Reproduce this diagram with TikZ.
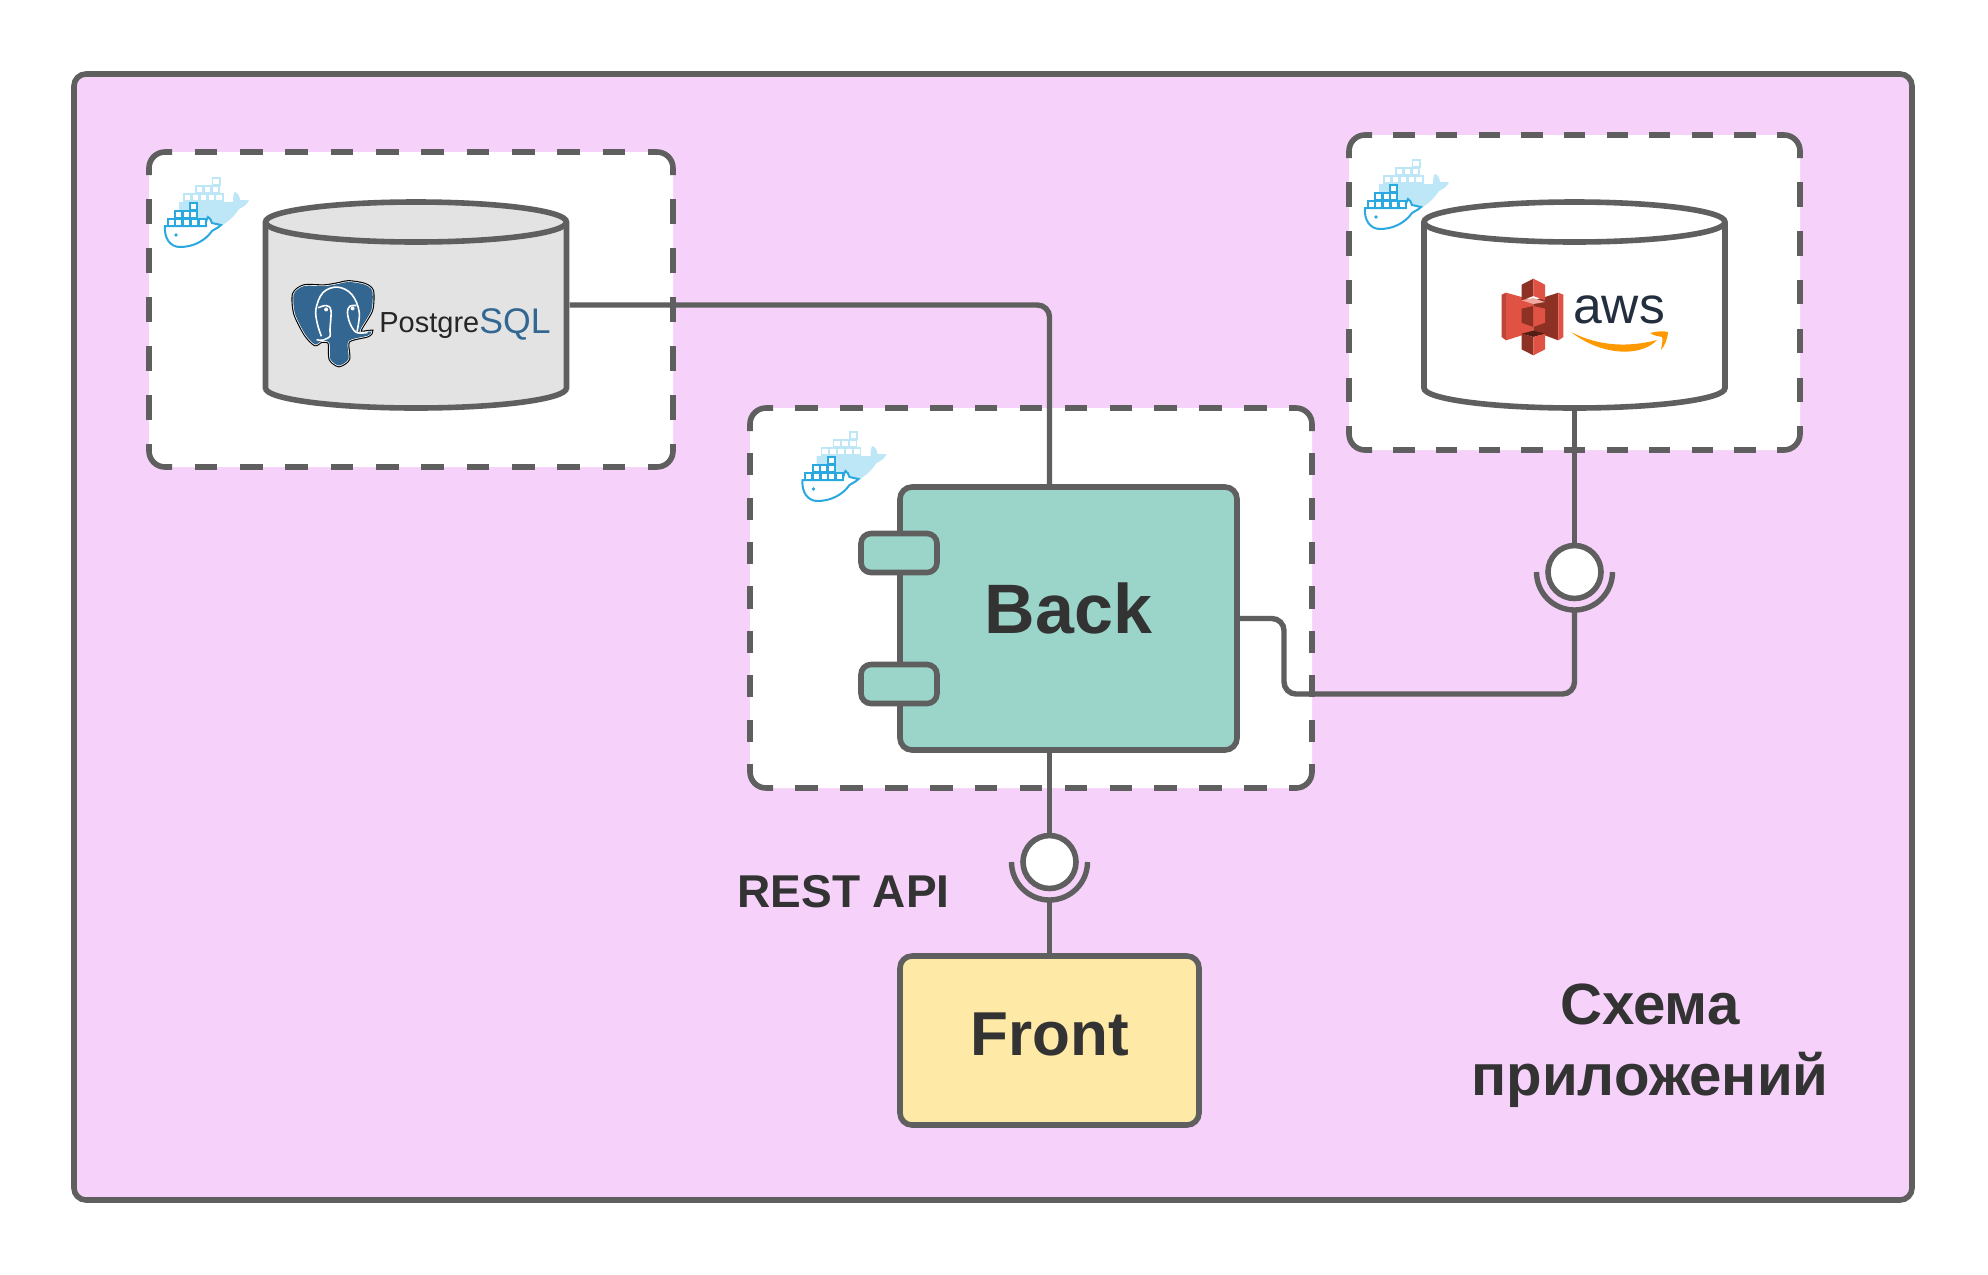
\documentclass[tikz,border=0pt]{standalone}
\usepackage{fontspec}
\setmainfont{Liberation Sans}
\definecolor{linegray}{HTML}{5F5F5F}
\definecolor{framepink}{HTML}{F6D2FA}
\definecolor{backteal}{HTML}{9BD5CA}
\definecolor{frontyellow}{HTML}{FEEAA6}
\definecolor{dbgray}{HTML}{E3E3E3}
\definecolor{labelgray}{HTML}{333333}
\definecolor{dockerblue}{HTML}{2AA9E0}
\definecolor{dockerpale}{HTML}{BDE6F7}
\definecolor{pgblue}{HTML}{336791}
\definecolor{awsnavy}{HTML}{232F3E}
\definecolor{awsorange}{HTML}{FF9900}
\definecolor{sthreelight}{HTML}{E05243}
\definecolor{sthreedark}{HTML}{8C3123}
\tikzset{
    wire/.style={draw=linegray,line width=2.7pt},
    solidbox/.style={draw=linegray,line width=2.8pt,rectangle,rounded corners=6pt,inner sep=0pt,text=labelgray,font=\bfseries},
    dashbox/.style={fill=white,rectangle,rounded corners=8pt,outer sep=0pt},
    dashline/.style={draw=linegray,line width=2.8pt},
    dbcyl/.style={rectangle,outer sep=0pt,inner sep=0pt,minimum width=150.5pt,minimum height=103pt},
    dbline/.style={draw=linegray,line width=2.8pt},
    portbox/.style={solidbox,fill=backteal,rounded corners=5pt,minimum width=38pt,minimum height=19.5pt},
    socket/.style={draw=linegray,fill=white,line width=2.8pt,circle,minimum size=26.5pt,inner sep=0pt},
    label/.style={text=labelgray,font=\bfseries,inner sep=0pt},
    pics/dockership/.style={code={
        % pale whale behind
        \fill[dockerpale] (14,-24) -- (68,-24) .. controls (68,-30) and (69,-34) .. (70,-34)
            .. controls (73,-33) and (75,-29) .. (75,-26) -- (84,-26) .. controls (82,-21) and (78,-19) .. (74,-17)
            .. controls (68,-8) and (60,-1) .. (49,3) -- (14,0) -- cycle;
        \foreach \x in {0,1,2,3,4} {
            \draw[dockerpale,fill=white,line width=0.8pt] (19+7.9*\x,-32) rectangle ++(7.2,7);
        }
        \foreach \x in {0,1,2} {
            \draw[dockerpale,fill=white,line width=0.8pt] (31+7.9*\x,-40) rectangle ++(7.2,7);
        }
        \draw[dockerpale,fill=white,line width=0.8pt] (47.5,-48) rectangle ++(7.2,7);
        % front whale
        \draw[dockerblue,fill=white,line width=1pt] (0,0) -- (40,0) .. controls (41,-4) and (42,-8) .. (43,-9)
            .. controls (45,-8) and (46,-6) .. (47,-3) -- (56,-1) .. controls (52,3) and (49,3) .. (47,5)
            .. controls (40,15) and (28,21) .. (15,21) .. controls (5,21) and (-1,12) .. (0,0) -- cycle;
        \fill[dockerblue] (11,9) circle[radius=0.9pt];
        \foreach \x in {0,1,2,3,4} {
            \draw[dockerblue,fill=white,line width=1pt] (2.7+7.7*\x,-7) rectangle ++(7,7);
        }
        \foreach \x in {0,1,2} {
            \draw[dockerblue,fill=white,line width=1pt] (10+7.7*\x,-15) rectangle ++(7,7);
        }
        \draw[dockerblue,fill=white,line width=1pt] (25.4,-23) rectangle ++(7,7);
    }}
}
% dashes of a container: #1 node, #2 half period along the top, #3 half period down the side
\newcommand{\dashframe}[3]{
    \draw[dashline,dash pattern=on #2 off #2,dash phase=#2] ([xshift=11.5pt]#1.north west) -- ([xshift=-11.5pt]#1.north east);
    \draw[dashline,dash pattern=on #2 off #2,dash phase=#2] ([xshift=11.5pt]#1.south west) -- ([xshift=-11.5pt]#1.south east);
    \draw[dashline,dash pattern=on #3 off #3,dash phase=#3] ([yshift=-11.5pt]#1.north west) -- ([yshift=11.5pt]#1.south west);
    \draw[dashline,dash pattern=on #3 off #3,dash phase=#3] ([yshift=-11.5pt]#1.north east) -- ([yshift=11.5pt]#1.south east);
    \draw[dashline,rounded corners=8pt] ([yshift=-11.5pt]#1.north west) -- (#1.north west) -- ([xshift=11.5pt]#1.north west);
    \draw[dashline,rounded corners=8pt] ([yshift=-11.5pt]#1.north east) -- (#1.north east) -- ([xshift=-11.5pt]#1.north east);
    \draw[dashline,rounded corners=8pt] ([yshift=11.5pt]#1.south west) -- (#1.south west) -- ([xshift=11.5pt]#1.south west);
    \draw[dashline,rounded corners=8pt] ([yshift=11.5pt]#1.south east) -- (#1.south east) -- ([xshift=-11.5pt]#1.south east);
}
% cylinder round an empty node: #1 node, #2 fill
\newcommand{\dbdrum}[2]{
    \draw[dbline,fill=#2] ([yshift=-10pt]#1.north west) arc[start angle=180,end angle=0,x radius=75.25pt,y radius=10pt]
        -- ([yshift=10pt]#1.south east) arc[start angle=0,end angle=-180,x radius=75.25pt,y radius=10pt] -- cycle;
    \draw[dbline] ([yshift=-10pt]#1.north west) arc[start angle=180,end angle=360,x radius=75.25pt,y radius=10pt];
}
\begin{document}
\begin{tikzpicture}[x=0.5pt,y=-0.5pt]
    \useasboundingbox (0,0) rectangle (1988,1275);
    % outer frame
    \draw[draw=linegray,fill=framepink,line width=2.8pt,rounded corners=6pt] (74,74) rectangle (1912,1200);

    % docker containers
    \node[dashbox,minimum width=262pt,minimum height=157.5pt] (pgbox) at (411,309.5) {};
    \node[dashbox,minimum width=225.5pt,minimum height=157.5pt] (sthreebox) at (1574.5,292.5) {};
    \node[dashbox,minimum width=281pt,minimum height=190pt] (backbox) at (1031,598) {};
    \dashframe{pgbox}{11.33pt}{12.23pt}
    \dashframe{sthreebox}{10.66pt}{12.2pt}
    \dashframe{backbox}{11.22pt}{11.1pt}

    \pic at (165,226) {dockership};
    \pic at (1365,208) {dockership};
    \pic at (802.5,480) {dockership};

    % databases
    \node[dbcyl] (pgdb) at (416,305) {};
    \node[dbcyl] (sthreedb) at (1574.5,305) {};
    \dbdrum{pgdb}{dbgray}
    \dbdrum{sthreedb}{white}

    % elephant
    \begin{scope}[shift={(288,278)},x=0.159pt,y=-0.162pt]
        \def\elephant{plot[smooth cycle,tension=0.45] coordinates {(115,25) (50,25) (18,50) (22,110) (55,175) (85,205) (105,195)
            (130,200) (133,250) (160,270) (190,250) (190,195) (250,178) (262,165) (225,165) (262,100) (265,40) (240,20) (190,12) (160,18)}}
        \draw[black,line width=1.8pt] \elephant;
        \draw[white,line width=0.7pt] \elephant;
        \fill[pgblue] \elephant;
        \draw[white,line width=0.8pt] plot[smooth,tension=0.6] coordinates {(105,180) (92,140) (88,95) (110,45) (155,28) (200,50) (224,105) (217,165)};
        \draw[white,line width=0.8pt] plot[smooth,tension=0.6] coordinates {(95,92) (120,85) (135,100) (132,160) (132,180) (108,192) (90,190)};
        \draw[white,line width=0.8pt] plot[smooth,tension=0.6] coordinates {(215,85) (195,87) (187,105) (195,140) (215,168) (250,168)};
        \fill[white] (120,97) circle[radius=1pt] (203,94) circle[radius=1pt];
    \end{scope}
    \node[anchor=base west,inner sep=0pt,text=black!85,font=\fontsize{14.5}{14.5}\selectfont] (pgtext) at (379,332) {Postgre};
    \node[anchor=base west,inner sep=0pt,text=pgblue,font=\fontsize{17.8}{17.8}\selectfont] (sqltext) at (479,333) {SQL};

    % s3 bucket
    \begin{scope}[shift={(1495,272)},x=0.1667pt,y=-0.1667pt]
        \fill[sthreelight!85!black] (20,68) -- (33,62) -- (33,205) -- (20,195) -- cycle;
        \fill[sthreelight] (33,62) -- (80,75) -- (115,85) -- (115,185) -- (80,190) -- (33,205) -- cycle;
        \fill[sthreedark] (190,62) -- (150,75) -- (115,85) -- (115,185) -- (150,190) -- (190,205) -- cycle;
        \fill[sthreelight] (190,62) -- (205,68) -- (205,195) -- (190,205) -- cycle;
        \fill[sthreedark] (80,38) -- (115,20) -- (115,72) -- (80,85) -- cycle;
        \fill[sthreelight] (115,20) -- (150,38) -- (150,85) -- (115,72) -- cycle;
        \fill[sthreelight!50!white] (80,85) -- (115,78) -- (150,90) -- (115,96) -- cycle;
        \fill[sthreedark] (80,110) -- (115,102) -- (115,165) -- (80,152) -- cycle;
        \fill[sthreelight] (115,102) -- (150,110) -- (150,152) -- (115,165) -- cycle;
        \fill[sthreedark!60!black] (80,185) -- (115,176) -- (150,185) -- (115,195) -- cycle;
        \fill[sthreedark] (80,185) -- (115,195) -- (115,250) -- (80,232) -- cycle;
        \fill[sthreelight] (115,195) -- (150,185) -- (150,232) -- (115,250) -- cycle;
    \end{scope}
    \node[anchor=base,inner sep=0pt,text=awsnavy,font=\fontsize{25.8}{25.8}\selectfont] (awstext) at (1619,323) {aws};
    \fill[awsorange] (1571,332) .. controls (1600,355) and (1640,358) .. (1657,340)
        .. controls (1630,347) and (1600,347) .. (1571,332) -- cycle;
    \fill[awsorange] (1650,333) .. controls (1657,331) and (1664,331) .. (1668,332)
        .. controls (1668,337) and (1665,346) .. (1661,350) .. controls (1662,344) and (1663,339) .. (1662,337)
        .. controls (1658,336) and (1654,336) .. (1650,333) -- cycle;

    % components
    \node[solidbox,fill=backteal,minimum width=168.5pt,minimum height=131.5pt,text depth=10pt,font=\bfseries\fontsize{35}{35}\selectfont] (back) at (1068.5,618.5) {Back};
    \node[portbox] (portup) at (899,553) {};
    \node[portbox] (portdown) at (899,684) {};
    \node[solidbox,fill=frontyellow,minimum width=149.5pt,minimum height=84.5pt,text depth=6.5pt,font=\bfseries\fontsize{31}{31}\selectfont] (front) at (1049.5,1040.5) {Front};

    % sockets and wires
    \node[socket] (apisock) at (1049.5,862) {};
    \node[socket] (sthreesock) at (1574.5,572) {};
    \coordinate (apicup) at (1049.5,900);
    \coordinate (sthreecup) at (1574.5,610);
    \coordinate (sthreebend) at (1284,694);

    \draw[wire,rounded corners=6pt] ([xshift=1.5pt]pgdb.east) -| (apisock |- back.north);
    \draw[wire] (apisock |- back.south) -- (apisock.north);
    \draw[wire] (front.north) -- (apicup);
    \draw[wire] (sthreedb.south) -- (sthreesock.north);
    \draw[wire,rounded corners=6pt] (back.east) -| (sthreebend) -| (sthreecup);
    \draw[wire] ([xshift=-19pt]apisock.center) arc[start angle=180,end angle=360,radius=19pt];
    \draw[wire] ([xshift=-19pt]sthreesock.center) arc[start angle=180,end angle=360,radius=19pt];

    % labels
    \node[label,anchor=base,font=\bfseries\fontsize{23}{23}\selectfont] (restlabel) at (843.5,907.5) {REST API};
    \node[label,align=center,font=\bfseries\fontsize{29.1}{35.5}\selectfont] (titlelabel) at (1650,1046) {Схема\\приложений};
\end{tikzpicture}
\end{document}
